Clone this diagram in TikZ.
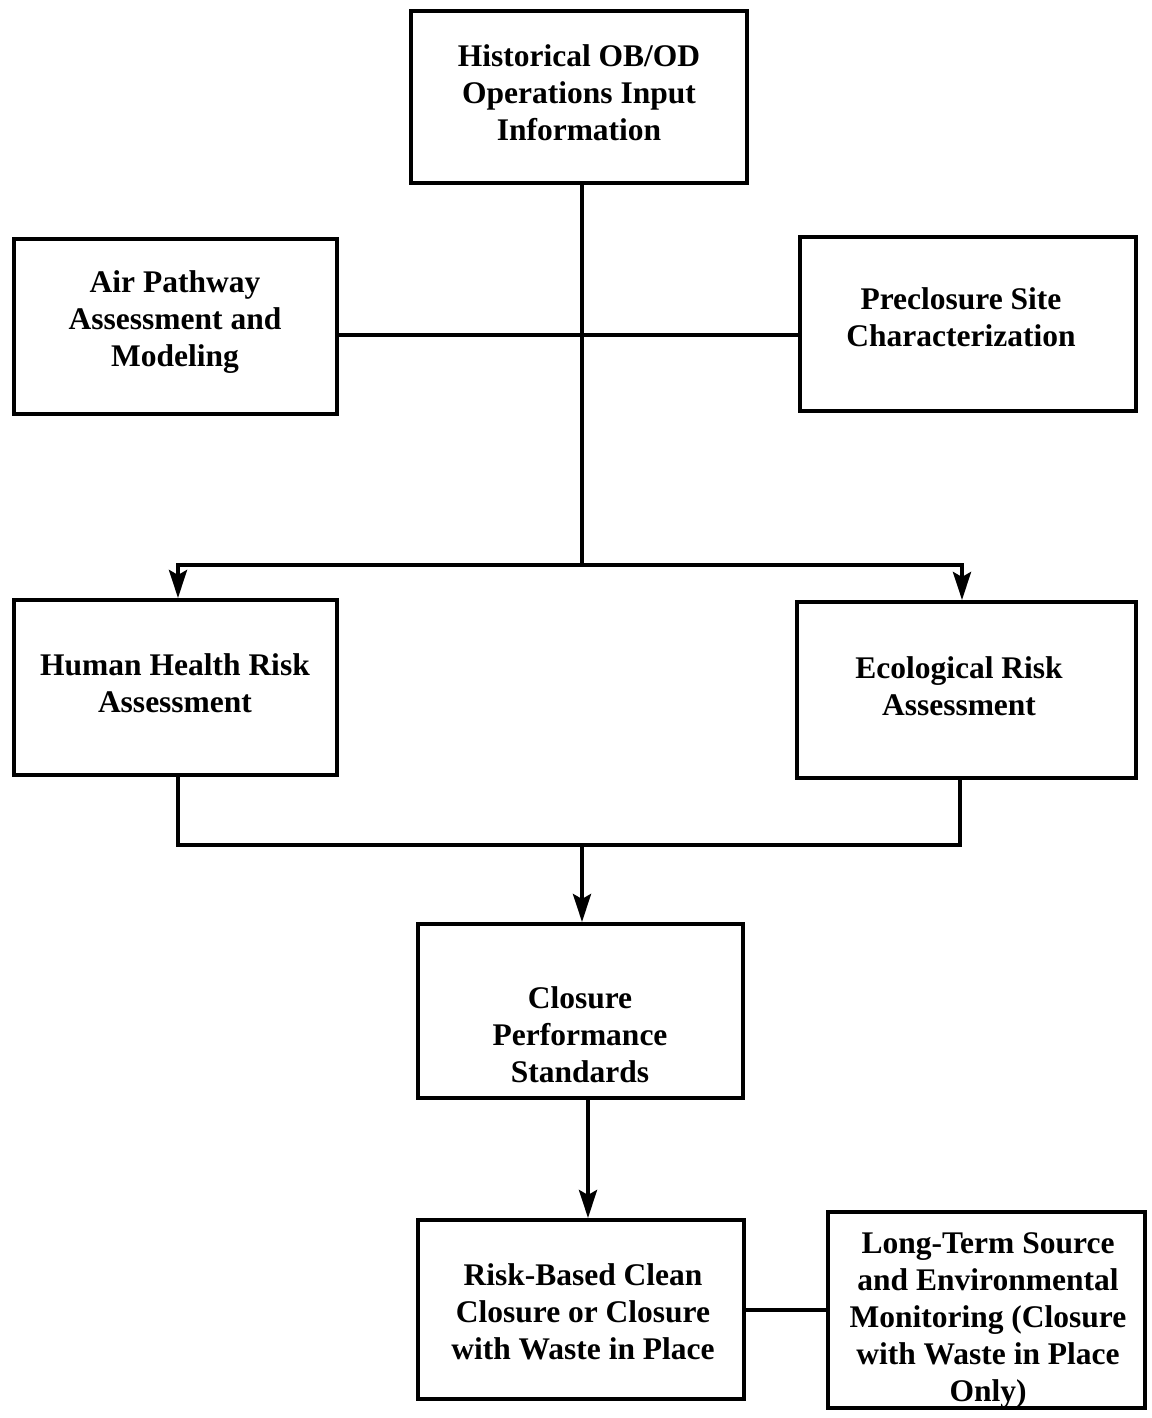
\documentclass[tikz,border=0pt]{standalone}
\usepackage{fontspec}
\setmainfont{Liberation Serif}
\usetikzlibrary{arrows.meta,calc}

\begin{document}
\begin{tikzpicture}[x=1pt,y=-1pt,
  box/.style={draw, line width=4pt, inner sep=0pt},
  txt/.style={align=center, inner sep=0pt,
    font=\fontsize{31.5}{37}\selectfont\bfseries},
  link/.style={line width=4pt},
  flow/.style={line width=4pt, -{Stealth[length=28pt,width=18pt,inset=5pt]}}]
\useasboundingbox (0,0) rectangle (1151,1418);

% boxes
\node[box, minimum width=336pt, minimum height=172pt] (top) at (579,97) {};
\node[box, minimum width=323pt, minimum height=175pt] (air) at (175.5,326.5) {};
\node[box, minimum width=336pt, minimum height=174pt] (pre) at (968,324) {};
\node[box, minimum width=323pt, minimum height=175pt] (hh)  at (175.5,687.5) {};
\node[box, minimum width=339pt, minimum height=176pt] (eco) at (966.5,690) {};
\node[box, minimum width=325pt, minimum height=174pt] (cps) at (580.5,1011) {};
\node[box, minimum width=326pt, minimum height=179pt] (rb)  at (581,1309.5) {};
\node[box, minimum width=317pt, minimum height=196pt] (lt)  at (986.5,1310) {};

% labels
\node[txt] (ttop) at (579,93)  {Historical OB/OD\\Operations Input\\Information};
\node[txt] (tair) at (175,322) {Air Pathway\\Assessment and\\Modeling};
\node[txt] (tpre) at (961,317) {Preclosure Site\\Characterization};
\node[txt] (thh)  at (175,683) {Human Health Risk\\Assessment};
\node[txt] (teco) at (959,686) {Ecological Risk\\Assessment};
\node[txt] (tcps) at (580,1035) {Closure\\Performance\\Standards};
\node[txt] (trb)  at (583,1312) {Risk-Based Clean\\Closure or Closure\\with Waste in Place};
\node[txt] (tlt)  at (988,1320) {Long-Term Source\\and Environmental\\Monitoring (Closure\\with Waste in Place\\Only)};

% routing points
\coordinate (xm) at (582,0);
\coordinate (xl) at (178,0);
\coordinate (xr) at (962,0);
\coordinate (xe) at (960,0);
\coordinate (xc) at (588,0);
\coordinate (ybar) at (0,335);
\coordinate (split) at (582,565);
\coordinate (merge) at (582,845);

% connectors
\draw[link] (top.south -| xm) -- (split);
\draw[link] (air.east |- ybar) -- (pre.west |- ybar);
\draw[flow] (split) -| (hh.north -| xl);
\draw[flow] (split) -| (eco.north -| xr);
\draw[link] (hh.south -| xl) |- (merge);
\draw[link] (eco.south -| xe) |- (merge);
\draw[flow] (merge) -- (cps.north -| merge);
\draw[flow] (cps.south -| xc) -- (rb.north -| xc);
\draw[link] (rb.east) -- (lt.west |- rb.east);
\end{tikzpicture}
\end{document}
